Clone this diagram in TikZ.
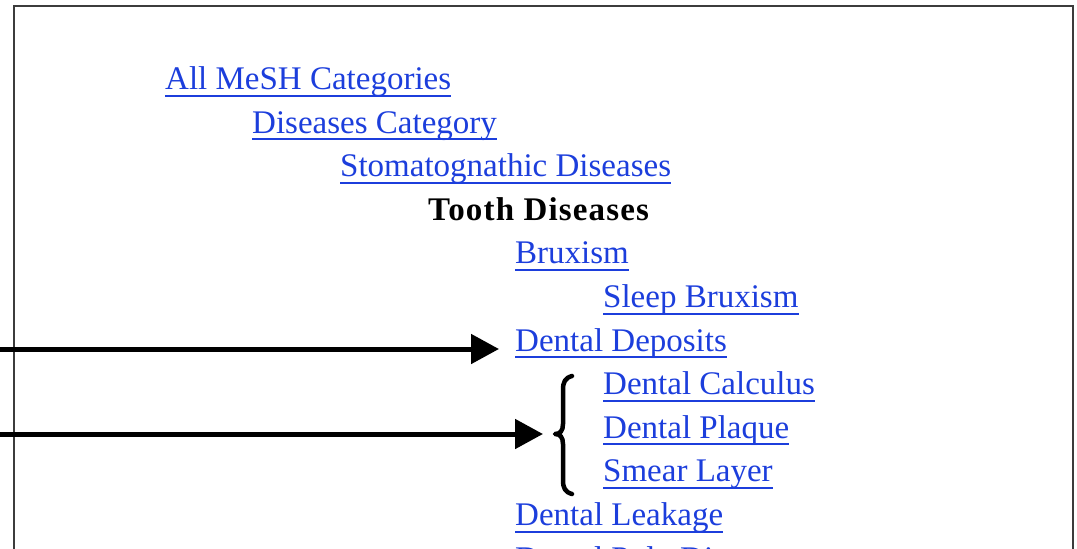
\documentclass[tikz,border=0pt]{standalone}
\usepackage{fontspec}
\setmainfont{Liberation Serif}
\usetikzlibrary{arrows.meta}
\definecolor{linkblue}{RGB}{28,62,220}
\definecolor{framegray}{RGB}{60,60,60}
\begin{document}
\begin{tikzpicture}[x=1pt,y=-1pt,
  lnk/.style={anchor=base west,inner sep=0pt,text=linkblue,font=\fontsize{33}{40}\selectfont},
  cur/.style={anchor=base west,inner sep=0pt,text=black,font=\fontsize{33}{40}\selectfont\bfseries\addfontfeatures{LetterSpace=3.5}},
  uline/.style={draw=linkblue,line width=2pt},
  bigarrow/.style={line width=5pt,-{Triangle[length=28pt,width=29pt]}},
  bracestyle/.style={line width=4.5pt,line cap=round,line join=round}]
\clip (0,0) rectangle (1077,549);
\draw[framegray,line width=2pt] (13.5,5.5) rectangle (1072.5,600);
\foreach \name/\x/\i/\t in {
  all/165/0/All MeSH Categories,
  dis/252/1/Diseases Category,
  sto/340/2/Stomatognathic Diseases,
  bru/515/4/Bruxism,
  sle/603/5/Sleep Bruxism,
  dd/515/6/Dental Deposits,
  dc/603/7/Dental Calculus,
  dp/603/8/Dental Plaque,
  sl/603/9/Smear Layer,
  dl/515/10/Dental Leakage,
  dpd/515/11/Dental Pulp Diseases} {
  \node[lnk] (\name) at (\x, {89.5+43.6*\i}) {\t};
  \draw[uline] ([yshift=-6pt]\name.base west) -- ([yshift=-6pt]\name.base east);
}
\node[cur] (tooth) at (428, {89.5+43.6*3}) {Tooth Diseases};
% brace
\coordinate (bm) at (555,434);
\draw[bracestyle] (572,376) .. controls (565,378) and (563,382) .. (563,390)
  -- (563,424) .. controls (563,431) and (560,434) .. (bm)
  .. controls (560,434) and (563,437) .. (563,444)
  -- (563,480) .. controls (563,488) and (565,492) .. (572,494);
% arrows
\coordinate (s1) at (0,349);
\coordinate (s2) at (0,434);
\draw[bigarrow] (s1) -- ([xshift=-16pt]s1 -| dd.west);
\draw[bigarrow] (s2) -- ([xshift=-12pt]s2 -| bm);
\end{tikzpicture}
\end{document}
